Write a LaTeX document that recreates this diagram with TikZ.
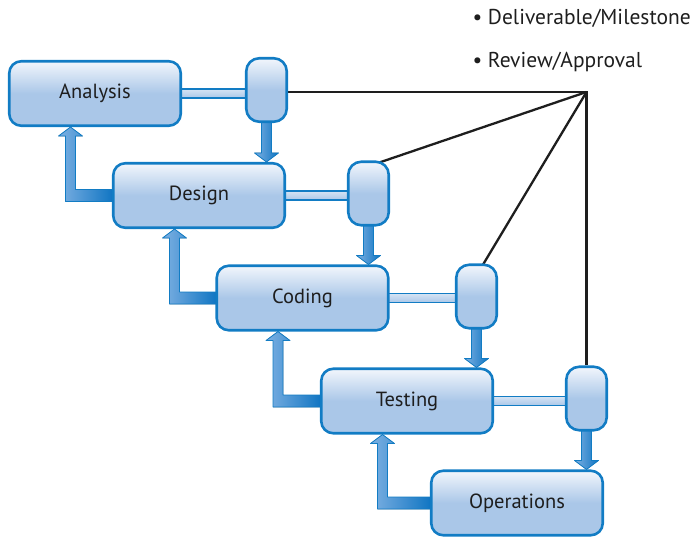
\documentclass[tikz,border=0pt]{standalone}
\usepackage{fontspec}
\setmainfont{PT Sans}
\usetikzlibrary{calc}
\pgfdeclarelayer{bg}
\pgfsetlayers{bg,main}
\definecolor{bord}{RGB}{18,124,196}
\definecolor{ftop}{RGB}{242,246,252}
\definecolor{fbot}{RGB}{170,199,232}
\definecolor{arrL}{RGB}{125,176,226}
\definecolor{arrR}{RGB}{14,116,194}
\definecolor{inkc}{RGB}{30,30,30}
\pgfdeclareverticalshading{boxsh}{100bp}{color(0bp)=(fbot); color(50bp)=(fbot); color(75bp)=(ftop); color(100bp)=(ftop)}
\tikzset{
  phase/.style={draw=bord, line width=2.6pt, rounded corners=12pt,
    minimum width=171.5pt, minimum height=64.5pt, shading=boxsh,
    font=\fontsize{20.5}{24}\selectfont, text=inkc},
  mstone/.style={draw=bord, line width=2.6pt, rounded corners=13pt,
    minimum width=40.5pt, minimum height=63.5pt, shading=boxsh},
  arr/.style={draw=bord, line width=0.8pt, left color=arrL, right color=arrR, line join=round},
  bar/.style={draw=bord, line width=1.4pt, top color=ftop!60!fbot, bottom color=fbot},
  ms/.style={draw=inkc, line width=2.3pt, line join=miter},
  legend/.style={anchor=west, font=\fontsize{21.5}{25}\selectfont, text=inkc}
}
\newcommand{\backarr}[2]{%
  \coordinate (kx) at ($(#2.south)+(-24.5,0)$);
  \coordinate (k) at (kx |- #1.west);
  \coordinate (t) at (kx);
  \filldraw[arr] ($(#1.west)+(2,-6)$) -- ($(k)+(5,-6)$) -- ($(t)+(5,9)$) -- ($(t)+(12,9)$) -- (t) -- ($(t)+(-12,9)$) -- ($(t)+(-5,9)$) -- ($(k)+(-5,6)$) -- ($(#1.west)+(2,6)$) -- cycle;}
\newcommand{\downarr}[2]{%
  \coordinate (t) at (#1.south |- #2.north);
  \filldraw[arr] ($(#1.south)+(-5,-2)$) -- ($(t)+(-5,-9)$) -- ($(t)+(-12,-9)$) -- (t) -- ($(t)+(12,-9)$) -- ($(t)+(5,-9)$) -- ($(#1.south)+(5,-2)$) -- cycle;}
\newcommand{\linkbar}[2]{%
  \coordinate (b1) at ($(#1.east)+(-3,-4.5)$);
  \coordinate (bw) at (#2.west |- #1.east);
  \coordinate (b2) at ($(bw)+(3,4.5)$);
  \filldraw[bar] (b1) rectangle (b2);}
\begin{document}
\begin{tikzpicture}[x=1pt,y=-1pt]
\useasboundingbox (0,0) rectangle (699,538);
% phases
\node[phase] (A) at (95,93.5) {Analysis};
\node[phase] (D) at (199,195.5) {Design};
\node[phase] (C) at (302.5,298) {Coding};
\node[phase] (T) at (407,401) {Testing};
\node[phase] (O) at (517,503) {Operations};
% milestones
\node[mstone] (M1) at (266.5,90) {};
\node[mstone] (M2) at (368.5,193.5) {};
\node[mstone] (M3) at (476.5,296.5) {};
\node[mstone] (M4) at (586.5,398.5) {};
% legend
\node[legend] (L1) at (469,18) {\textbullet\ Deliverable/Milestone};
\node[legend] (L2) at (469,62) {\textbullet\ Review/Approval};
\coordinate (P) at (586.5,92);
\begin{pgfonlayer}{bg}
  \draw[ms] (M1.east |- P) -- (P) -- (M4.north);
  \draw[ms] (P) -- ($(M2.north)+(11,2)$);
  \draw[ms] (P) -- ($(M3.north)+(6,2)$);
  \linkbar{A}{M1}
  \linkbar{D}{M2}
  \linkbar{C}{M3}
  \linkbar{T}{M4}
  \downarr{M1}{D}
  \downarr{M2}{C}
  \downarr{M3}{T}
  \downarr{M4}{O}
  \backarr{D}{A}
  \backarr{C}{D}
  \backarr{T}{C}
  \backarr{O}{T}
\end{pgfonlayer}
\end{tikzpicture}
\end{document}
